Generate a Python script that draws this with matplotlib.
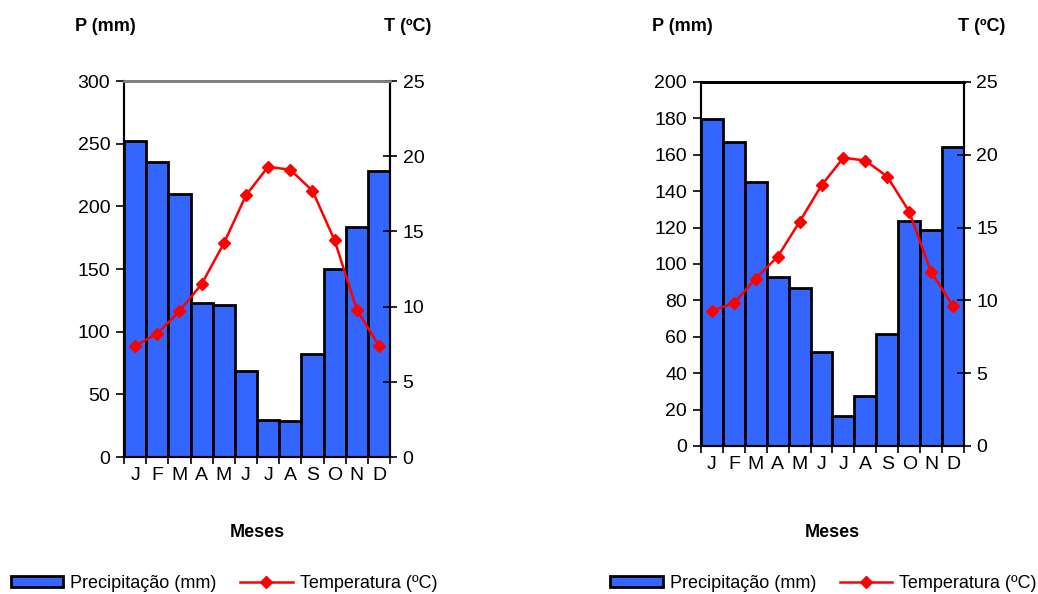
import matplotlib
matplotlib.use("Agg")
import matplotlib.pyplot as plt
import numpy as np

plt.rcParams['font.family'] = ['Liberation Sans', 'DejaVu Sans']

months = ['J', 'F', 'M', 'A', 'M', 'J', 'J', 'A', 'S', 'O', 'N', 'D']

# left chart
precip_a = [252, 235, 210, 123, 121, 69, 29.5, 28.7, 82, 150, 183.5, 228]
temp_a = [7.4, 8.2, 9.7, 11.5, 14.2, 17.4, 19.3, 19.1, 17.7, 14.4, 9.8, 7.4]
pticks_a = [0, 50, 100, 150, 200, 250, 300]

# right chart
precip_b = [179.7, 167, 145, 92.9, 86.8, 51.6, 16.5, 27.5, 61.5, 123.6, 118.7, 164.3]
temp_b = [9.3, 9.8, 11.5, 13.0, 15.4, 17.9, 19.8, 19.6, 18.5, 16.1, 11.95, 9.6]
pticks_b = [0, 20, 40, 60, 80, 100, 120, 140, 160, 180, 200]
tticks = [0, 5, 10, 15, 20, 25]

bar_color = '#3366FF'
line_color = '#FF0000'
fs = 13
tfs = 14

fig = plt.figure(figsize=(10.38, 5.94), dpi=100, facecolor='white')


def climate_chart(rect, precip, temp, pticks, top_color, legend_x):
    ax = fig.add_axes(rect)
    x = np.arange(len(months))
    bars = ax.bar(x, precip, width=1.0, color=bar_color,
                  edgecolor='black', linewidth=2, zorder=2,
                  label='Precipitação (mm)')
    ax.set_xlim(-0.5, 11.5)
    ax.set_ylim(pticks[0], pticks[-1])
    ax.set_yticks(pticks)
    ax.set_xticks(x)
    ax.set_xticklabels(months)
    ax.set_xticks(np.arange(-0.5, 12, 1), minor=True)
    ax.tick_params(axis='x', which='major', length=0, labelsize=tfs, pad=7)
    ax.tick_params(axis='x', which='minor', length=5, width=1.2, direction='out')
    ax.tick_params(axis='y', length=6, width=1.2, direction='out',
                   labelsize=tfs, pad=4)
    for side in ['left', 'bottom', 'right']:
        ax.spines[side].set_color('black')
        ax.spines[side].set_linewidth(1.5)
    ax.spines['top'].set_color(top_color)
    ax.spines['top'].set_linewidth(2)

    ax2 = ax.twinx()
    line, = ax2.plot(x, temp, color=line_color, linewidth=1.8, marker='D',
                     markersize=6, zorder=3, label='Temperatura (ºC)')
    ax2.set_ylim(0, 25)
    ax2.set_yticks(tticks)
    ax2.tick_params(axis='y', length=10, width=1.2, direction='inout',
                    labelsize=tfs, pad=4)
    for side in ['left', 'bottom', 'right']:
        ax2.spines[side].set_color('black')
        ax2.spines[side].set_linewidth(1.5)
    ax2.spines['top'].set_color(top_color)
    ax2.spines['top'].set_linewidth(2)

    l, b, w, h = rect
    fig.text(l - 0.047, 0.955, 'P (mm)', fontsize=fs, fontweight='bold',
             ha='left', va='center')
    fig.text(l + w + 0.04, 0.955, 'T (ºC)', fontsize=fs, fontweight='bold',
             ha='right', va='center')
    fig.text(l + w / 2, 0.103, 'Meses', fontsize=fs, fontweight='bold',
             ha='center', va='center')

    fig.legend(handles=[bars, line], loc='center',
               bbox_to_anchor=(legend_x, 0.018), ncol=2, frameon=False,
               fontsize=fs, handlelength=2.9, handleheight=0.6,
               handletextpad=0.4, columnspacing=1.3, borderpad=0)


climate_chart([0.1195, 0.2306, 0.2563, 0.633], precip_a, temp_a, pticks_a,
              '#808080', 0.2158)
climate_chart([0.6753, 0.2492, 0.2534, 0.6128], precip_b, temp_b, pticks_b,
              'black', 0.7935)

plt.savefig('out.png', dpi=100)
